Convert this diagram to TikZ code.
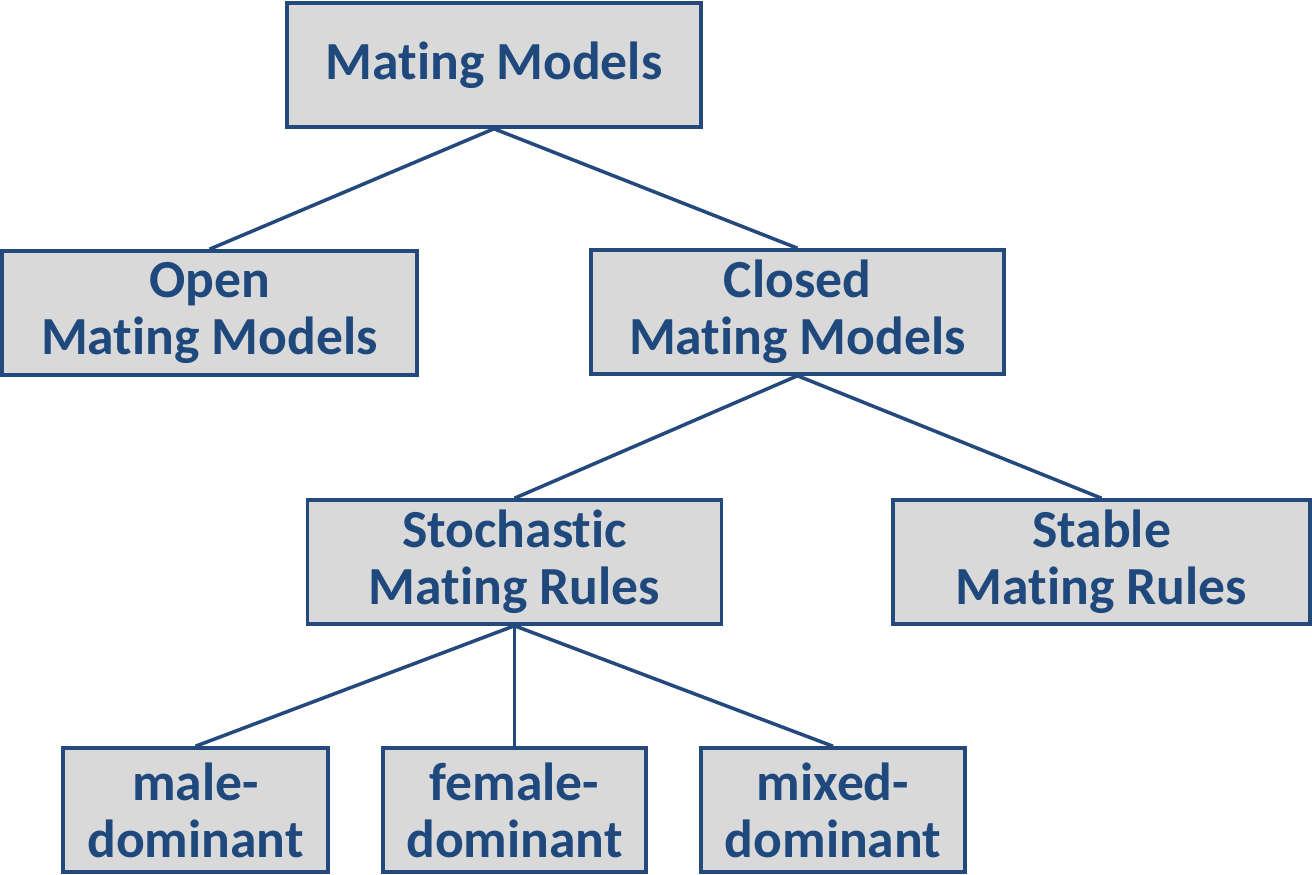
\documentclass[tikz,border=0pt]{standalone}
\usepackage{fontspec}
\setmainfont{Carlito}[RawFeature={-liga;-clig;-dlig}]
\usepackage{tikz}
\usetikzlibrary{calc}
\usepackage{xcolor}
\definecolor{boxblue}{HTML}{24497D}
\definecolor{textblue}{HTML}{1F497D}
\definecolor{boxgray}{HTML}{D9D9D9}

\begin{document}
\begin{tikzpicture}[
    model/.style={draw=boxblue, fill=boxgray, line width=2pt, text=textblue,
      font=\fontsize{30.5}{32.5}\selectfont\bfseries, align=center,
      minimum width=8.28cm, minimum height=2.48cm, inner sep=0pt},
    small/.style={model, minimum width=5.28cm},
    link/.style={draw=boxblue, line width=2pt}]
    %\draw[step=1, gray,very thin] (0,0) grid (26.24,-17.5);
    \useasboundingbox (0,0) rectangle (26.24,-17.5);

    \node[model] (mm) at (9.88,-1.3) {Mating Models};
    \node[model, minimum width=8.3cm] (open) at (4.19,-6.26) {Open\\Mating Models};
    \node[model, minimum width=8.26cm] (closed) at (15.95,-6.24) {Closed\\Mating Models};
    \node[model] (stoch) at (10.29,-11.24) {Stochastic\\Mating Rules};
    \node[model, minimum width=8.34cm] (stable) at (22.03,-11.24) {Stable\\Mating Rules};
    \node[small, minimum width=5.3cm] (male) at (3.91,-16.2) {male-\\dominant};
    \node[small, minimum width=5.26cm] (female) at (10.29,-16.2) {female-\\dominant};
    \node[small] (mixed) at (16.66,-16.2) {mixed-\\dominant};

    \begin{scope}[link]
    \draw (mm.south)--(open.north);
    \draw (mm.south)--(closed.north);
    \draw (closed.south)--(stoch.north);
    \draw (closed.south)--(stable.north);
    \draw (stoch.south)--(male.north);
    \draw (stoch.south)--(female.north);
    \draw (stoch.south)--(mixed.north);
    \end{scope}
\end{tikzpicture}
\end{document}
